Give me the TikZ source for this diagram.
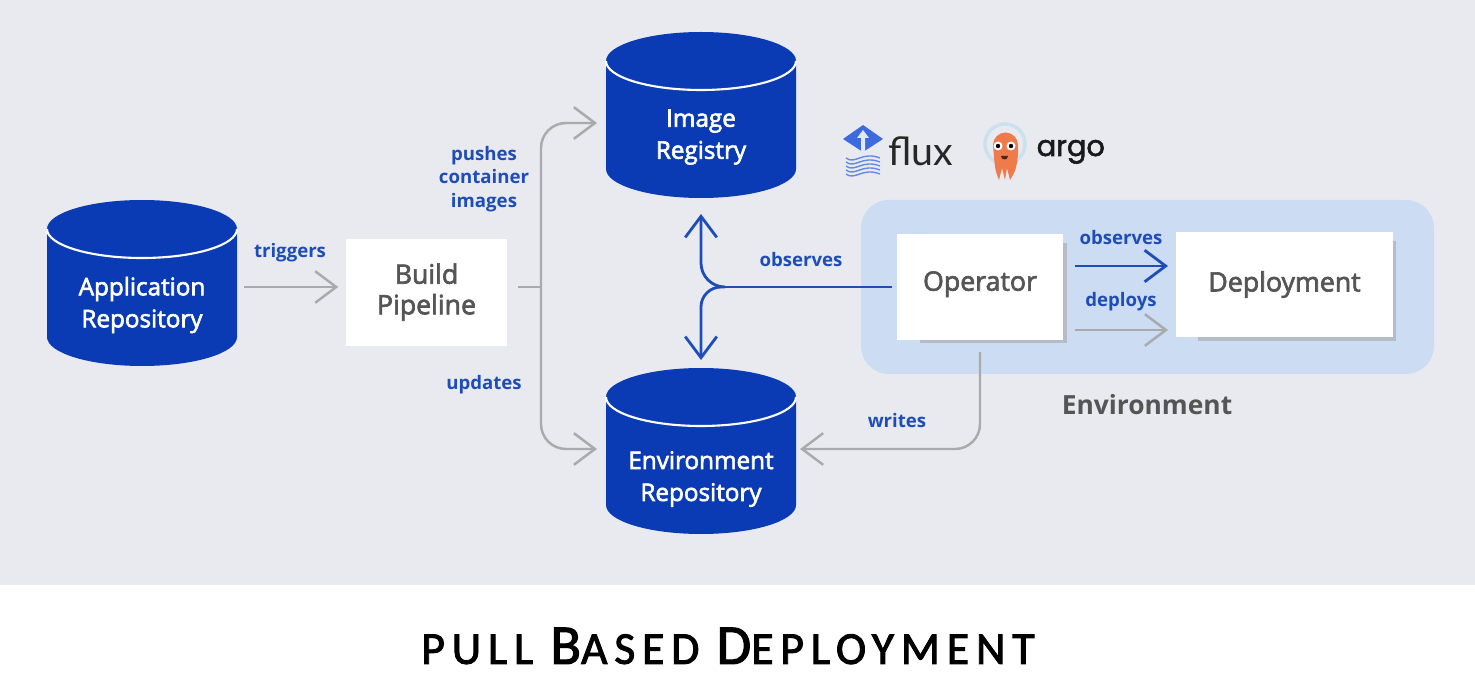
\documentclass[tikz,border=0pt]{standalone}
\usepackage{fontspec}
\setmainfont{Open Sans}
\newfontfamily\boxfont[FakeBold=2.5]{Open Sans}
\newfontfamily\fluxfont{Lato}
\newfontfamily\argofont[FakeBold=2]{Poppins}
\newfontfamily\titlefont[FakeBold=2,LetterSpace=15]{Carlito}
\usetikzlibrary{arrows.meta}
\definecolor{pagegray}{HTML}{E9EAF0}
\definecolor{envblue}{HTML}{CCDDF3}
\definecolor{dbblue}{HTML}{0A3BB5}
\definecolor{linkblue}{HTML}{1E4DB7}
\definecolor{linegray}{HTML}{A8AAAC}
\definecolor{textgray}{HTML}{555555}
\definecolor{shadowgray}{HTML}{B4BCC8}
\definecolor{fluxblue}{HTML}{3D6AE0}
\definecolor{argoorange}{HTML}{EF7B4D}
\begin{document}
\begin{tikzpicture}

  % Set up styles
  \tikzset{
      dbnode/.style={draw=none, minimum width=1.9cm, minimum height=1.66cm, inner sep=0pt, outer sep=0pt},
      dbtext/.style={text=white, align=center, font=\boxfont\fontsize{6.9pt}{9.1pt}\selectfont},
      boxnode/.style={fill=white, text=textgray, align=center, inner sep=0pt,
        font=\boxfont\fontsize{7.6pt}{9.2pt}\selectfont},
      shadownode/.style={fill=shadowgray, inner sep=0pt},
      linknode/.style={text=linkblue, align=center, inner sep=0pt,
        font=\bfseries\fontsize{5.3pt}{6.7pt}\selectfont},
      grayline/.style={draw=linegray, line width=0.7pt, -{Straight Barb[length=6pt,width=9pt,line width=0.7pt]}},
      blueline/.style={draw=linkblue, line width=0.8pt, -{Straight Barb[length=6pt,width=9pt,line width=0.8pt]}}
  }

  \useasboundingbox (0,0) rectangle (14.75,-6.73);
  \fill[pagegray] (0,0) rectangle (14.75,-5.85);

  % Environment panel
  \node[fill=envblue, rounded corners=0.28cm, minimum width=5.73cm, minimum height=1.74cm, inner sep=0pt] (envpanel) at (11.475,-2.87) {};
  \node[font=\bfseries\fontsize{7.5pt}{9pt}\selectfont, text=textgray] (envlabel) at (11.47,-4.05) {Environment};

  % Repositories
  \node[dbnode] (apprepo) at (1.42,-2.83) {};
  \node[dbnode] (imgreg) at (7.01,-1.15) {};
  \node[dbnode] (envrepo) at (7.01,-4.51) {};
  \foreach \n in {apprepo, imgreg, envrepo} {
      \fill[dbblue] ([yshift=-0.29cm]\n.north west) arc[start angle=180, end angle=0, x radius=0.95, y radius=0.29]
        -- ([yshift=0.29cm]\n.south east) arc[start angle=0, end angle=-180, x radius=0.95, y radius=0.29] -- cycle;
      \draw[white, line width=0.6pt] ([yshift=-0.29cm]\n.north west) arc[start angle=180, end angle=360, x radius=0.95, y radius=0.29];
  }
  \node[dbtext] (apptext) at (1.42,-3.05) {Application\\Repository};
  \node[dbtext] (imgtext) at (7.01,-1.37) {Image\\Registry};
  \node[dbtext] (envtext) at (7.01,-4.79) {Environment\\Repository};

  % Boxes with their shadows
  \node[shadownode, minimum width=1.47cm, minimum height=1.0cm] (opshadow) at (9.935,-2.93) {};
  \node[shadownode, minimum width=1.98cm, minimum height=1.0cm] (depshadow) at (12.97,-2.91) {};
  \node[boxnode, minimum width=1.61cm, minimum height=1.07cm] (build) at (4.265,-2.925) {\raisebox{0.02cm}{\begin{tabular}{@{}c@{}}Build\\[-0.5pt]Pipeline\end{tabular}}};
  \node[boxnode, minimum width=1.66cm, minimum height=1.06cm, text depth=0.12cm] (operator) at (9.80,-2.87) {Operator};
  \node[boxnode, minimum width=2.17cm, minimum height=1.05cm] (deployment) at (12.845,-2.845) {Deployment};

  % Free ends of the connectors
  \coordinate (splitgray) at (5.41,-2.87);
  \coordinate (pushend) at (5.97,-1.23);
  \coordinate (updend) at (5.97,-4.49);
  \coordinate (splitblue) at (7.22,-2.87);
  \coordinate (obsup) at (7.01,-2.14);
  \coordinate (obsdown) at (7.01,-3.60);
  \coordinate (opleft) at (8.92,-2.87);
  \coordinate (opbottom) at (9.80,-3.52);
  \coordinate (wrend) at (8.00,-4.49);

  % Grey connectors
  \draw[grayline, shorten <=0.07cm, shorten >=0.07cm] (apprepo.east |- splitgray) -- (build.west |- splitgray);
  \draw[draw=linegray, line width=0.7pt, shorten <=0.1cm] (build.east |- splitgray) -- (splitgray);
  \draw[grayline, rounded corners=0.25cm] (splitgray) |- (pushend);
  \draw[grayline, rounded corners=0.25cm] (splitgray) |- (updend);
  \draw[grayline, rounded corners=0.25cm] (opbottom) |- (wrend);
  \draw[grayline] (10.75,-3.30) -- (11.68,-3.30);

  % Blue connectors
  \draw[draw=linkblue, line width=0.8pt] (opleft) -- (splitblue);
  \draw[blueline, rounded corners=0.24cm] (splitblue) -| (obsup);
  \draw[blueline, rounded corners=0.2cm] (splitblue) -| (obsdown);
  \draw[blueline] (10.75,-2.66) -- (11.68,-2.66);

  % Connector labels
  \node[linknode] (trigtext) at (2.90,-2.53) {triggers};
  \node[linknode] (pushtext) at (4.84,-1.79) {pushes\\container\\images};
  \node[linknode] (updtext) at (4.84,-3.85) {updates};
  \node[linknode] (obstext) at (8.01,-2.60) {observes};
  \node[linknode] (obstwo) at (11.21,-2.38) {observes};
  \node[linknode] (deptext) at (11.21,-3.02) {deploys};
  \node[linknode] (writext) at (8.97,-4.21) {writes};

  % Flux logo
  \fill[fluxblue] (8.43,-1.39) -- (8.63,-1.25) -- (8.83,-1.39) -- (8.63,-1.52) -- cycle;
  \fill[white!85!fluxblue] (8.63,-1.30) -- (8.69,-1.38) -- (8.65,-1.38) -- (8.65,-1.55) -- (8.61,-1.55) -- (8.61,-1.38) -- (8.57,-1.38) -- cycle;
  \foreach \y in {-1.56,-1.60,-1.64,-1.68,-1.72} {
      \draw[fluxblue!80, line width=0.4pt] (8.46,\y-0.02) .. controls (8.55,\y-0.09) and (8.62,\y+0.05) .. (8.80,\y-0.02);
  }
  \node[font=\fluxfont\fontsize{11.2pt}{12pt}\selectfont, text=black!85, inner sep=0pt, anchor=base west] (fluxtext) at (8.88,-1.66) {flux};

  % Argo logo
  \draw[cyan!15!pagegray, line width=1pt] (10.05,-1.44) circle[radius=0.2];
  \fill[argoorange] (9.93,-1.45) arc[start angle=180, end angle=0, radius=0.125] -- (10.18,-1.55) .. controls (10.16,-1.70) .. (10.10,-1.80) -- (10.07,-1.68) -- (10.05,-1.80) -- (10.02,-1.68) -- (9.99,-1.80) .. controls (9.95,-1.70) .. (9.93,-1.45) -- cycle;
  \foreach \x in {9.98,10.11} {
      \fill[white] (\x,-1.46) circle[radius=0.045];
      \fill[black] (\x,-1.46) circle[radius=0.022];
  }
  \fill[black!70!argoorange] (10.01,-1.56) -- (10.08,-1.56) arc[start angle=0, end angle=-180, radius=0.035] -- cycle;
  \node[font=\argofont\fontsize{8.2pt}{9pt}\selectfont, text=black!90, inner sep=0pt, anchor=base west] (argotext) at (10.36,-1.56) {argo};

  % Title
  \node[font=\titlefont\fontsize{13pt}{14pt}\selectfont, text=black, inner sep=0pt] (title) at (7.28,-6.46) {PULL {\fontsize{16pt}{14pt}\selectfont B}ASED {\fontsize{16pt}{14pt}\selectfont D}EPLOYMENT};

\end{tikzpicture}
\end{document}
